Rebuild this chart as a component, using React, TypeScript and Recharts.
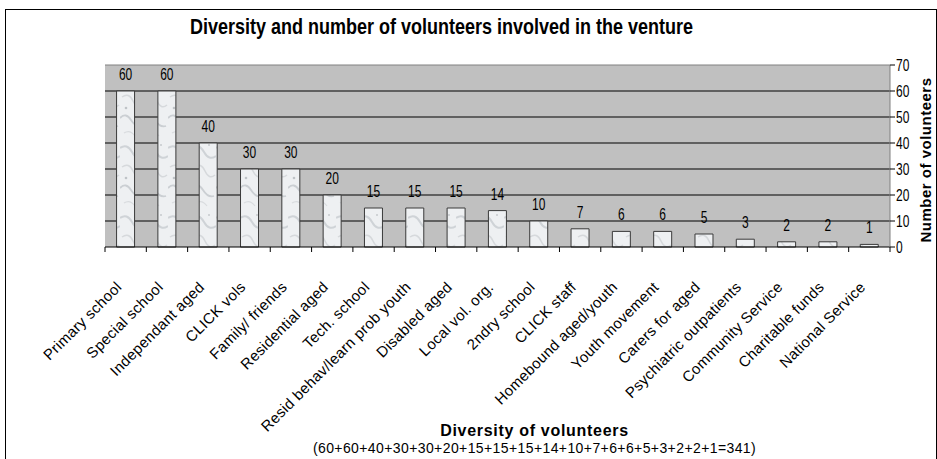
import React from 'react';
import { BarChart, Bar, XAxis, YAxis, CartesianGrid, LabelList, ReferenceLine } from 'recharts';

const categories = [
  'Primary school',
  'Special school',
  'Independant aged',
  'CLICK vols',
  'Family/ friends',
  'Residential aged',
  'Tech. school',
  'Resid behav/learn prob youth',
  'Disabled aged',
  'Local vol. org.',
  '2ndry school',
  'CLICK staff',
  'Homebound aged/youth',
  'Youth movement',
  'Carers for aged',
  'Psychiatric outpatients',
  'Community Service',
  'Charitable funds',
  'National Service',
];
const volunteers = [60, 60, 40, 30, 30, 20, 15, 15, 15, 14, 10, 7, 6, 6, 5, 3, 2, 2, 1];
const yTicks = [0, 10, 20, 30, 40, 50, 60, 70];
const gridValues = [10, 20, 30, 40, 50, 60];

const title = 'Diversity and number of volunteers involved in the venture';
const xTitle = 'Diversity of volunteers';
const xSubtitle = '(60+60+40+30+30+20+15+15+15+14+10+7+6+6+5+3+2+2+1=341)';
const yTitle = 'Number of volunteers';

const data = categories.map((name, i) => ({ name, value: volunteers[i] }));

const W = 937;
const H = 459;
const MARGIN = { top: 65, right: 7, left: 105, bottom: 0 };
const Y_AXIS_W = 40;
const X_AXIS_H = 212;
const PLOT_W = W - MARGIN.left - MARGIN.right - Y_AXIS_W;
const BAND = PLOT_W / categories.length;
const FONT = '"Liberation Sans", Arial, sans-serif';
const STRETCH = 1.3; // the source text is drawn taller than it is wide

function CategoryTick(props: any) {
  const { x, y, payload, index } = props;
  const half = BAND / 2;
  const ax = x - 3;
  const ay = y + 41;
  return (
    <g>
      <line x1={x - half} x2={x - half} y1={y} y2={y + 5} stroke="#000" />
      {index === categories.length - 1 && (
        <line x1={x + half} x2={x + half} y1={y} y2={y + 5} stroke="#000" />
      )}
      <text
        x={ax}
        y={ay}
        textAnchor="end"
        transform={`rotate(-45, ${ax}, ${ay})`}
        fontSize={15}
        letterSpacing={0.3}
        fontFamily={FONT}
        fill="#000"
      >
        {payload.value}
      </text>
    </g>
  );
}

function ValueTick(props: any) {
  const { x, y, payload } = props;
  return (
    <text
      x={x}
      y={y}
      dominantBaseline="central"
      transform={`translate(${x},${y}) scale(1,${STRETCH}) translate(${-x},${-y})`}
      fontSize={12}
      fontFamily={FONT}
      fill="#000"
    >
      {payload.value}
    </text>
  );
}

function BarValue(props: any) {
  const { x, y, width, value } = props;
  const cx = x + width / 2;
  const by = y - 11;
  return (
    <text
      x={cx}
      y={by}
      textAnchor="middle"
      transform={`translate(${cx},${by}) scale(1,${STRETCH}) translate(${-cx},${-by})`}
      fontSize={12}
      fontFamily={FONT}
      fill="#000"
    >
      {value}
    </text>
  );
}

function XTitle(props: any) {
  const vb = props.viewBox;
  const cx = vb.x + vb.width / 2 + 37;
  return (
    <g fontFamily={FONT} fill="#000">
      <text x={cx} y={vb.y + 189} textAnchor="middle" fontSize={16} letterSpacing={0.7} fontWeight="bold">
        {xTitle}
      </text>
      <text x={cx} y={vb.y + 206} textAnchor="middle" fontSize={14} letterSpacing={0.4}>
        {xSubtitle}
      </text>
    </g>
  );
}

function YTitle(props: any) {
  const vb = props.viewBox;
  const cx = vb.x + 35;
  const cy = 160;
  return (
    <text
      x={cx}
      y={cy}
      textAnchor="middle"
      dominantBaseline="central"
      transform={`rotate(-90, ${cx}, ${cy})`}
      fontSize={15}
      letterSpacing={0.5}
      fontWeight="bold"
      fontFamily={FONT}
      fill="#000"
    >
      {yTitle}
    </text>
  );
}

export default function App() {
  return (
    <div style={{ position: 'absolute', left: 0, top: 0, width: W, height: H, overflow: 'hidden', background: '#fff' }}>
      <div
        style={{
          position: 'absolute',
          left: 5,
          top: 9,
          width: 930,
          height: 470,
          border: '1px solid #000',
        }}
      />
      <div
        style={{
          position: 'absolute',
          left: 0,
          top: 17,
          width: 883,
          textAlign: 'center',
          fontFamily: FONT,
          fontWeight: 'bold',
          fontSize: 18,
          lineHeight: '22px',
          transform: `scaleY(1.25)`,
          transformOrigin: '50% 17px',
        }}
      >
        {title}
      </div>
      <div style={{ position: 'absolute', left: 0, top: 0 }}>
        <BarChart width={W} height={H} data={data} margin={MARGIN} barCategoryGap="28%">
          <defs>
            <pattern id="marble" patternUnits="userSpaceOnUse" width="24" height="70">
              <rect width="24" height="70" fill="#eef0f2" />
              <path d="M0 8 Q7 3 12 12 T24 16" stroke="#cfd3d7" strokeWidth="2" fill="none" />
              <path d="M2 27 Q9 22 13 31 T23 35" stroke="#d6d9dc" strokeWidth="1.5" fill="none" />
              <path d="M0 48 Q6 42 11 50 T22 56" stroke="#cbcfd3" strokeWidth="1.8" fill="none" />
              <path d="M4 63 Q10 59 15 66" stroke="#d9dcdf" strokeWidth="1.2" fill="none" />
              <circle cx="6" cy="38" r="1.3" fill="#bfc3c7" />
              <circle cx="17" cy="5" r="1" fill="#c6cacd" />
            </pattern>
          </defs>
          <CartesianGrid
            yAxisId="vol"
            vertical={false}
            horizontalValues={gridValues}
            stroke="#000"
            fill="#c0c0c0"
            fillOpacity={1}
          />
          <XAxis
            dataKey="name"
            interval={0}
            height={X_AXIS_H}
            tickSize={0}
            tickMargin={0}
            tick={<CategoryTick />}
            axisLine={{ stroke: '#000' }}
            label={<XTitle />}
          />
          <YAxis
            yAxisId="edge"
            orientation="left"
            width={0}
            domain={[0, 70]}
            tick={false}
            tickLine={false}
            axisLine={{ stroke: '#808080' }}
          />
          <YAxis
            yAxisId="vol"
            orientation="right"
            width={Y_AXIS_W}
            domain={[0, 70]}
            ticks={yTicks}
            interval={0}
            tickSize={5}
            tickMargin={1}
            tickLine={{ stroke: '#000' }}
            axisLine={{ stroke: '#808080' }}
            tick={<ValueTick />}
            label={<YTitle />}
          />
          <ReferenceLine yAxisId="vol" y={70} stroke="#808080" />
          <Bar
            yAxisId="vol"
            dataKey="value"
            fill="url(#marble)"
            stroke="#3a3a3a"
            strokeWidth={1}
            isAnimationActive={false}
          >
            <LabelList dataKey="value" content={<BarValue />} />
          </Bar>
        </BarChart>
      </div>
    </div>
  );
}
